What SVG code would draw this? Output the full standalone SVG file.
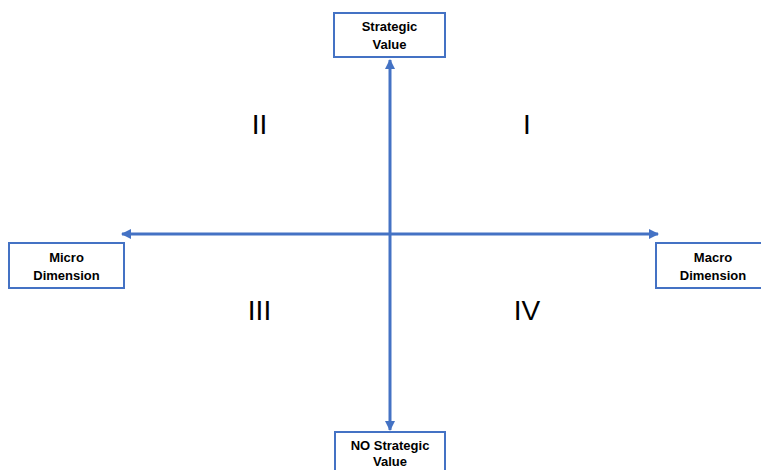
<svg xmlns="http://www.w3.org/2000/svg" width="761" height="470" viewBox="0 0 761 470">
<style>
.box{fill:#fff;stroke:#4472C4;stroke-width:2}
.lbl{font-family:"Liberation Sans",Arial,sans-serif;font-weight:bold;font-size:13px;fill:#000;text-anchor:middle}
.num{font-family:"Liberation Sans",Arial,sans-serif;font-size:28px;fill:#000;text-anchor:middle}
.axis{stroke:#4472C4;stroke-width:3;fill:none}
</style>
<defs>
<marker id="ah" viewBox="0 0 10 10" refX="9" refY="5" markerWidth="3.4" markerHeight="3.4" orient="auto" markerUnits="strokeWidth">
<path d="M0,0 L10,5 L0,10 Z" fill="#4472C4"/>
</marker>
</defs>
<rect width="761" height="470" fill="#fff"/>
<g id="connectors">
<line class="axis" x1="390" y1="234" x2="390" y2="60" marker-end="url(#ah)"/>
<line class="axis" x1="390" y1="234" x2="390" y2="430" marker-end="url(#ah)"/>
<line class="axis" x1="390" y1="234" x2="122" y2="234" marker-end="url(#ah)"/>
<line class="axis" x1="390" y1="234" x2="658" y2="234" marker-end="url(#ah)"/>
</g>
<g id="strategic">
<rect class="box" x="334" y="13" width="111" height="44"/>
<text class="lbl" x="389.5" y="31">Strategic</text>
<text class="lbl" x="389.5" y="49">Value</text>
</g>
<g id="micro">
<rect class="box" x="9" y="243" width="115" height="45"/>
<text class="lbl" x="66.5" y="262">Micro</text>
<text class="lbl" x="66.5" y="280">Dimension</text>
</g>
<g id="macro">
<rect class="box" x="656" y="243" width="114" height="45"/>
<text class="lbl" x="713" y="262">Macro</text>
<text class="lbl" x="713" y="280">Dimension</text>
</g>
<g id="nostrategic">
<rect class="box" x="335" y="432" width="110" height="50"/>
<text class="lbl" x="390" y="450">NO Strategic</text>
<text class="lbl" x="390" y="466">Value</text>
</g>
<g id="quadrants">
<text class="num" x="259.5" y="134">II</text>
<text class="num" x="527" y="134">I</text>
<text class="num" x="259.5" y="320">III</text>
<text class="num" x="527" y="320">IV</text>
</g>
</svg>
